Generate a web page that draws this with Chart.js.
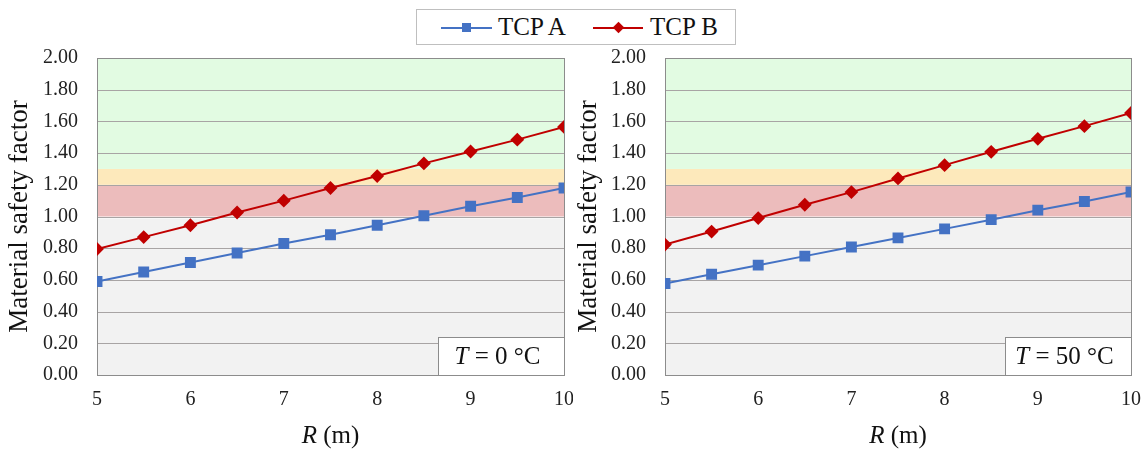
<!DOCTYPE html>
<html>
<head>
<meta charset="utf-8">
<script src="https://cdn.jsdelivr.net/npm/chart.js@4"></script>
<style>
  body { margin: 0; background: #fff; font-family: "Liberation Serif", serif; }
  #wrap { position: relative; width: 1146px; height: 451px; overflow: hidden; }
  .box { position: absolute; top: 0; width: 573px; height: 451px; }
  #legend { position: absolute; left: 416px; top: 9px; width: 318px; height: 34px;
            border: 1px solid #bfbfbf; background: #fff; font-size: 25px; color: #111; }
  .item { position: absolute; top: 0; height: 34px; line-height: 34px; }
  .ln { position: absolute; top: 17px; height: 2px; }
  .mk { position: absolute; width: 9px; height: 9px; }
</style>
</head>
<body>
<div id="wrap">
  <div class="box" style="left:0"><canvas id="c0" width="573" height="451"></canvas></div>
  <div class="box" style="left:573px"><canvas id="c1" width="573" height="451"></canvas></div>
  <div id="legend">
    <div class="ln" style="left:24px;width:51px;background:#4472C4"></div>
    <div class="mk" style="left:45px;top:13px;background:#4472C4"></div>
    <div class="item" style="left:81px">TCP A</div>
    <div class="ln" style="left:176px;width:50px;background:#C00000"></div>
    <div class="mk" style="left:197px;top:13px;background:#C00000;transform:rotate(45deg) scale(0.9)"></div>
    <div class="item" style="left:233px">TCP B</div>
  </div>
</div>
<script>
// radius R (m)
const radius = [5, 5.5, 6, 6.5, 7, 7.5, 8, 8.5, 9, 9.5, 10];

// T = 0 °C
const tcpA0 = [0.59, 0.65, 0.71, 0.77, 0.83, 0.885, 0.945, 1.005, 1.065, 1.12, 1.18];
const tcpB0 = [0.795, 0.87, 0.945, 1.025, 1.10, 1.18, 1.255, 1.335, 1.41, 1.485, 1.565];

// T = 50 °C
const tcpA50 = [0.577, 0.636, 0.693, 0.75, 0.808, 0.865, 0.922, 0.98, 1.04, 1.095, 1.155];
const tcpB50 = [0.823, 0.905, 0.99, 1.074, 1.154, 1.24, 1.324, 1.408, 1.49, 1.57, 1.653];

// safety bands (from, to) and colours
const bandLimits = [[0, 1.0], [1.0, 1.2], [1.2, 1.3], [1.3, 2.0]];
const bandColors = ['#f2f2f2', '#ecbcbc', '#fde9bb', '#e2fbe2'];

const tempLabels = ['0', '50'];

const serif = '"Liberation Serif", "Times New Roman", serif';

function pts(ys) {
    return radius.map((r, i) => ({ x: r, y: ys[i] }));
}

const bandsPlugin = {
    id: 'bands',
    beforeDatasetsDraw(chart) {
        const ctx = chart.ctx;
        const a = chart.chartArea;
        const y = chart.scales.y;
        ctx.save();
        bandLimits.forEach((b, i) => {
            let top = y.getPixelForValue(b[1]);
            const bot = y.getPixelForValue(b[0]);
            if (i === 0) top += 2; // thin white gap under the red band
            ctx.fillStyle = bandColors[i];
            ctx.fillRect(a.left, top, a.right - a.left, bot - top);
        });
        // grid lines over the bands
        ctx.strokeStyle = '#a8a4a4';
        ctx.lineWidth = 1;
        y.ticks.forEach(t => {
            const py = Math.round(y.getPixelForValue(t.value)) + 0.5;
            ctx.beginPath();
            ctx.moveTo(a.left, py);
            ctx.lineTo(a.right, py);
            ctx.stroke();
        });
        ctx.strokeStyle = '#8c8c8c';
        ctx.strokeRect(Math.round(a.left) + 0.5, Math.round(a.top) + 0.5,
                       Math.round(a.right - a.left), Math.round(a.bottom - a.top));
        ctx.restore();
    },
    afterDraw(chart) {
        const ctx = chart.ctx;
        const a = chart.chartArea;
        const t = chart.options.plugins.tempLabel;
        ctx.save();
        ctx.fillStyle = '#111';
        ctx.textBaseline = 'middle';

        // x axis title with italic R
        const cx = (a.left + a.right) / 2;
        ctx.font = 'italic 25px ' + serif;
        const rw = ctx.measureText('R').width;
        ctx.font = '25px ' + serif;
        const mw = ctx.measureText(' (m)').width;
        const sx = cx - (rw + mw) / 2;
        ctx.font = 'italic 25px ' + serif;
        ctx.fillText('R', sx, 436);
        ctx.font = '25px ' + serif;
        ctx.fillText(' (m)', sx + rw, 436);

        // temperature label box
        ctx.font = 'italic 25px ' + serif;
        const w1 = ctx.measureText('T').width;
        ctx.font = '25px ' + serif;
        const rest = ' = ' + t + ' \u00B0C';
        const w2 = ctx.measureText(rest).width;
        const bw = 126;
        const bh = 38;
        const bx = Math.round(a.right - bw) + 0.5;
        const by = Math.round(a.bottom - bh) + 0.5;
        ctx.fillStyle = '#fff';
        ctx.fillRect(bx, by, bw, bh);
        ctx.strokeStyle = '#8c8c8c';
        ctx.lineWidth = 1;
        ctx.strokeRect(bx, by, bw, bh);
        ctx.fillStyle = '#111';
        const tx = bx + bw / 2 - 4 - (w1 + w2) / 2;
        ctx.font = 'italic 25px ' + serif;
        ctx.fillText('T', tx, by + bh / 2 + 1);
        ctx.font = '25px ' + serif;
        ctx.fillText(rest, tx + w1, by + bh / 2 + 1);
        ctx.restore();
    }
};

function makeChart(id, a, b, temp, yWidth, padRight, titlePad) {
    new Chart(document.getElementById(id), {
        type: 'line',
        data: {
            datasets: [
                {
                    label: 'TCP A',
                    data: pts(a),
                    borderColor: '#4472C4',
                    backgroundColor: '#4472C4',
                    borderWidth: 2,
                    pointStyle: 'rect',
                    pointRadius: 6.3,
                    pointHoverRadius: 6.3
                },
                {
                    label: 'TCP B',
                    data: pts(b),
                    borderColor: '#C00000',
                    backgroundColor: '#C00000',
                    borderWidth: 2,
                    pointStyle: 'rectRot',
                    pointRadius: 5.5,
                    pointHoverRadius: 5.5
                }
            ]
        },
        options: {
            responsive: false,
            animation: false,
            layout: { padding: { top: 58, right: padRight, bottom: 0, left: 0 } },
            plugins: {
                legend: { display: false },
                tooltip: { enabled: false },
                tempLabel: temp
            },
            scales: {
                x: {
                    type: 'linear',
                    min: 5,
                    max: 10,
                    ticks: { stepSize: 1, padding: 5, color: '#222',
                             font: { family: serif, size: 20 } },
                    grid: { display: false },
                    border: { display: false },
                    afterFit: s => { s.height = 76; s.paddingLeft = 0; s.paddingRight = 0; }
                },
                y: {
                    min: 0,
                    max: 2,
                    ticks: { stepSize: 0.2, padding: 11, color: '#222',
                             font: { family: serif, size: 20 },
                             callback: v => v.toFixed(2) },
                    grid: { display: false },
                    border: { display: false },
                    title: {
                        display: true,
                        text: 'Material safety factor',
                        color: '#111',
                        font: { family: serif, size: 27 },
                        padding: { top: titlePad, bottom: 0 }
                    },
                    afterFit: s => { s.width = yWidth; s.paddingTop = 0; s.paddingBottom = 0; }
                }
            }
        },
        plugins: [bandsPlugin]
    });
}

Promise.all([
    document.fonts.load('20px "Liberation Serif"'),
    document.fonts.load('italic 25px "Liberation Serif"')
]).catch(() => {}).then(() => {
    makeChart('c0', tcpA0, tcpB0, tempLabels[0], 97, 9, 4);
    makeChart('c1', tcpA50, tcpB50, tempLabels[1], 92, 15, 0);
});
</script>
</body>
</html>
